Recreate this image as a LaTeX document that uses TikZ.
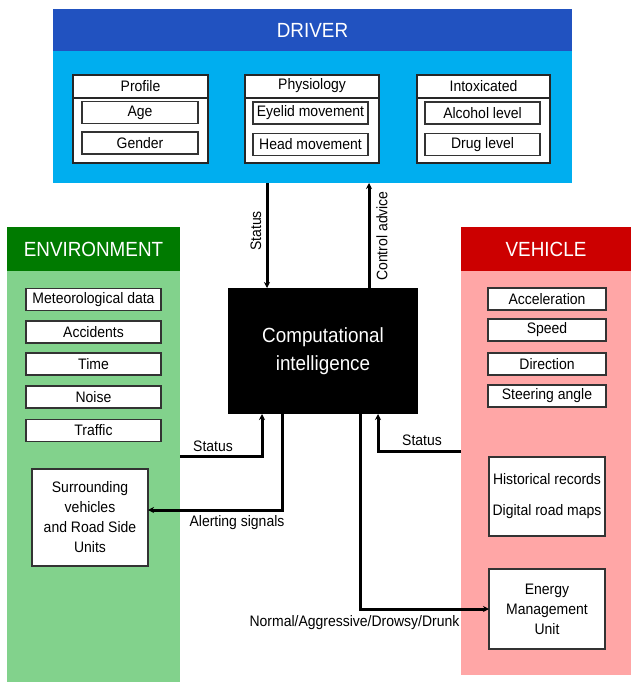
\documentclass[tikz,border=0pt]{standalone}
\usepackage{fontspec}
\setmainfont[FakeStretch=0.92]{Liberation Sans}
\usetikzlibrary{arrows.meta}
\definecolor{drvdark}{RGB}{33,82,192}
\definecolor{drvlight}{RGB}{0,174,239}
\definecolor{envdark}{RGB}{0,122,0}
\definecolor{envlight}{RGB}{130,210,140}
\definecolor{vehdark}{RGB}{204,0,0}
\definecolor{vehlight}{RGB}{255,166,166}
\tikzset{
 panel/.style={draw=none, inner sep=0, outer sep=0},
 hdr/.style={panel, text=white, font=\fontsize{20.5}{23}\selectfont},
 item/.style={draw=black!80, line width=1.3pt, fill=white, inner sep=0, outer sep=0, font=\fontsize{15.2}{17}\selectfont, minimum height=22pt},
 group/.style={draw=black!85, line width=1.3pt, fill=white, inner sep=0, outer sep=0},
 lbl/.style={font=\fontsize{15.2}{17}\selectfont, inner sep=0},
 conn/.style={line width=3pt, -{Stealth[length=6pt,width=6pt]}},
}
\begin{document}
\begin{tikzpicture}[x=1pt,y=-1pt]
\useasboundingbox (0,0) rectangle (631,682);
% DRIVER
\node[panel, fill=drvlight, minimum width=519, minimum height=174] (driver) at (312.5,96) {};
\node[hdr, fill=drvdark, minimum width=519, minimum height=42] (drvhdr) at (312.5,30) {DRIVER};
% Profile group
\node[group, minimum width=135, minimum height=88] (prof) at (140.5,119) {};
\draw[line width=1.3pt, draw=black!85] (prof.west |- 0,98) -- (prof.east |- 0,98);
\node[lbl] (profh) at (140.5,86) {Profile};
\node[item, minimum width=116] (age) at (140,112.5) {Age};
\node[item, minimum width=116] (gender) at (140,143) {Gender};
% Physiology group
\node[group, minimum width=134, minimum height=88] (phys) at (312,119) {};
\draw[line width=1.3pt, draw=black!85] (phys.west |- 0,98) -- (phys.east |- 0,98);
\node[lbl] (physh) at (312,86) {Physiology};
\node[item, minimum width=115] (eyelid) at (310.5,113) {Eyelid movement};
\node[item, minimum width=115] (head) at (310.5,144.5) {Head movement};
% Intoxicated group
\node[group, minimum width=133, minimum height=88] (intox) at (483.5,119) {};
\draw[line width=1.3pt, draw=black!85] (intox.west |- 0,98) -- (intox.east |- 0,98);
\node[lbl] (intoxh) at (483.5,86) {Intoxicated};
\node[item, minimum width=115] (alcohol) at (482.5,113) {Alcohol level};
\node[item, minimum width=115] (drug) at (482.5,144.5) {Drug level};
% ENVIRONMENT
\node[panel, fill=envlight, minimum width=173, minimum height=455] (env) at (93.5,454.5) {};
\node[hdr, fill=envdark, minimum width=173, minimum height=44] (envhdr) at (93.5,249) {ENVIRONMENT};
\node[item, minimum width=135] (meteo) at (93.5,299.5) {Meteorological data};
\node[item, minimum width=135] (acc) at (93.5,332) {Accidents};
\node[item, minimum width=135] (time) at (93.5,364) {Time};
\node[item, minimum width=135] (noise) at (93.5,397) {Noise};
\node[item, minimum width=135] (traffic) at (93.5,430.5) {Traffic};
\node[item, minimum width=116, minimum height=97, align=center, font=\fontsize{15.2}{20}\selectfont] (sur) at (90,517.5) {Surrounding\\vehicles\\and Road Side\\Units};
% VEHICLE
\node[panel, fill=vehlight, minimum width=170, minimum height=448] (veh) at (546,451) {};
\node[hdr, fill=vehdark, minimum width=170, minimum height=44] (vehhdr) at (546,249) {VEHICLE};
\node[item, minimum width=118] (accel) at (547,299) {Acceleration};
\node[item, minimum width=118] (speed) at (547,330) {Speed};
\node[item, minimum width=118] (dir) at (547,364) {Direction};
\node[item, minimum width=118] (steer) at (547,396) {Steering angle};
\node[item, minimum width=116, minimum height=79, align=center, font=\fontsize{15.2}{31}\selectfont] (hist) at (547,496.5) {Historical records\\Digital road maps};
\node[item, minimum width=116, minimum height=80, align=center, font=\fontsize{15.2}{20}\selectfont] (emu) at (547,609) {Energy\\Management\\Unit};
% Computational intelligence
\node[panel, fill=black, text=white, minimum width=190, minimum height=126, align=center, font=\fontsize{20.5}{28}\selectfont] (ci) at (323,351) {Computational\\intelligence};
% connectors
\coordinate (s1) at (267,0);
\coordinate (s2) at (369,0);
\coordinate (es) at (262,456);
\coordinate (al) at (282,510);
\coordinate (nm) at (360,609);
\coordinate (vs) at (378,451);
\draw[conn] (driver.south -| s1) -- (ci.north -| s1);
\draw[conn] (ci.north -| s2) -- (driver.south -| s2);
\draw[conn] (env.east |- es) -| (ci.south -| es);
\draw[conn] (ci.south -| al) |- (sur.east |- al);
\draw[conn] (ci.south -| nm) |- (emu.west |- nm);
\draw[conn] (veh.west |- vs) -| (ci.south -| vs);
% labels
\node[lbl, rotate=90] (lst1) at (256,231) {Status};
\node[lbl, rotate=90] (lca) at (382,236) {Control advice};
\node[lbl] (lst2) at (213,446) {Status};
\node[lbl] (lst3) at (422,440) {Status};
\node[lbl] (lal) at (237,523) {Alerting signals};
\node[lbl] (lnm) at (354.5,623) {Normal/Aggressive/Drowsy/Drunk};
\end{tikzpicture}
\end{document}
